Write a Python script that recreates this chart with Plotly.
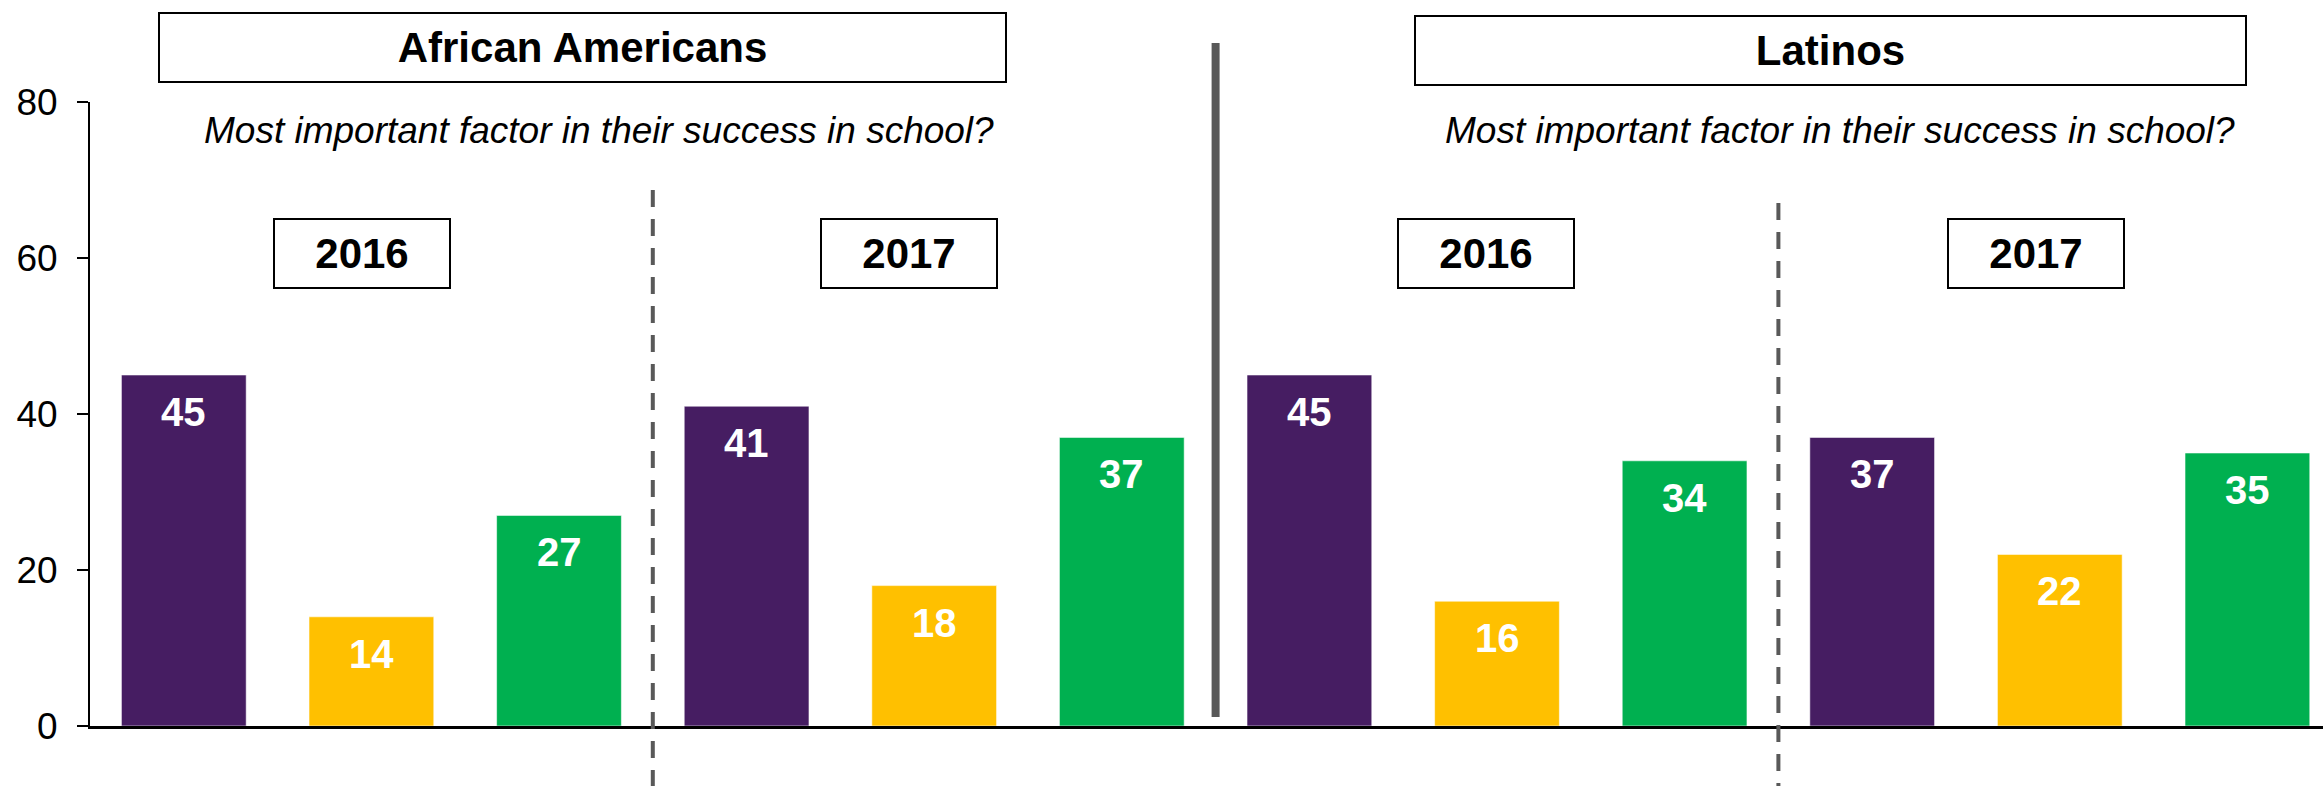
import plotly.graph_objects as go

# Survey panels: two groups, two survey years each
groups = ["African Americans", "Latinos"]
years = ["2016", "2017"]
subtitle = "Most important factor in their success in school?"

# Share of respondents (%) per panel, one list per response colour
purple_vals = [45, 41, 45, 37]
yellow_vals = [14, 18, 16, 22]
green_vals = [27, 37, 34, 35]

y_ticks = [0, 20, 40, 60, 80]

PURPLE = "#461D62"
YELLOW = "#FFC000"
GREEN = "#00B050"
FONT = "Liberation Sans, Arial, sans-serif"
DIVIDER = "#595959"

n_panels = len(purple_vals)
fig = go.Figure()

series = [(purple_vals, PURPLE, 0), (yellow_vals, YELLOW, 1), (green_vals, GREEN, 2)]
for vals, color, slot in series:
    xs = [3 * p + slot for p in range(n_panels)]
    fig.add_trace(go.Bar(
        x=xs, y=vals, width=0.665,
        marker=dict(color=color, line=dict(color="rgba(255,255,255,0.55)", width=1)),
        showlegend=False, hoverinfo="skip",
    ))
    # value labels inside the top of each bar
    for x, v in zip(xs, vals):
        fig.add_annotation(
            x=x, y=v, xref="x", yref="y", text=f"<b>{v}</b>", showarrow=False,
            yanchor="middle", yshift=-37,
            font=dict(family=FONT, size=40, color="white"),
        )

# group header boxes (above the plot area, so placed in paper units)
header_x = [2.125, 8.778]
header_y = [1.0873, 1.0833]
header_w = [845, 829]
for g, hx, hy, hw in zip(groups, header_x, header_y, header_w):
    fig.add_annotation(
        x=hx, y=hy, xref="x", yref="paper", text=f"<b>{g}</b>", showarrow=False,
        xanchor="center", yanchor="middle", width=hw, height=67,
        bordercolor="black", borderwidth=2, borderpad=0, bgcolor="white",
        font=dict(family=FONT, size=42, color="black"),
    )

# question subtitles
for sx in [2.213, 8.828]:
    fig.add_annotation(
        x=sx, y=76.3, xref="x", yref="y", text=f"<i>{subtitle}</i>", showarrow=False,
        xanchor="center", yanchor="middle",
        font=dict(family=FONT, size=37, color="black"),
    )

# year boxes
year_x = [0.950, 3.868, 6.939, 9.873]
for i, yx in enumerate(year_x):
    fig.add_annotation(
        x=yx, y=60.6, xref="x", yref="y", text=f"<b>{years[i % 2]}</b>", showarrow=False,
        xanchor="center", yanchor="middle", width=174, height=67,
        bordercolor="black", borderwidth=2, borderpad=0, bgcolor="white",
        font=dict(family=FONT, size=42, color="black"),
    )

# dashed year separators and solid group separator
fig.add_shape(type="line", xref="x", yref="paper", x0=2.5, x1=2.5, y0=0.859, y1=-0.1,
              line=dict(color=DIVIDER, width=4, dash="17px,12px"))
fig.add_shape(type="line", xref="x", yref="paper", x0=8.5, x1=8.5, y0=0.838, y1=-0.1,
              line=dict(color=DIVIDER, width=4, dash="17px,12px"))
fig.add_shape(type="line", xref="x", yref="paper", x0=5.5, x1=5.5, y0=1.0946, y1=0.0144,
              line=dict(color=DIVIDER, width=8))

fig.update_layout(
    width=2323, height=786,
    margin=dict(l=90, r=0, t=102, b=60),
    plot_bgcolor="white", paper_bgcolor="white",
    barmode="overlay",
    font=dict(family=FONT, color="black"),
    xaxis=dict(range=[-0.5, 11.403], showticklabels=False, ticks="", showgrid=False,
               zeroline=False, showline=True, linecolor="black", linewidth=3, fixedrange=True),
    yaxis=dict(range=[0, 80], tickvals=y_ticks, ticks="outside", ticklen=11, tickwidth=2,
               tickcolor="black", showgrid=False, zeroline=False, showline=True,
               linecolor="black", linewidth=2, ticklabelstandoff=12,
               tickfont=dict(family=FONT, size=37, color="black"), fixedrange=True),
)

fig.write_html("out.html", config={"displayModeBar": False})
